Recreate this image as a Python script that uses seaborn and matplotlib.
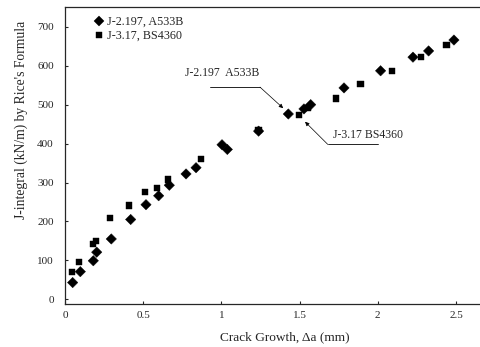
import numpy as np
import pandas as pd
import seaborn as sns
import matplotlib.pyplot as plt

sns.set_style("ticks")
plt.rcParams['font.family'] = ['Liberation Serif', 'DejaVu Serif']

# J-2.197, A533B (diamonds)
a533b_x = [0.049, 0.098, 0.181, 0.203, 0.296, 0.42, 0.518, 0.599, 0.667, 0.774, 0.838,
           1.004, 1.038, 1.238, 1.428, 1.528, 1.571, 1.784, 2.018, 2.225, 2.325, 2.487]
a533b_y = [43, 71, 99, 121, 155, 205, 243, 266, 293, 322, 338,
           397, 385, 432, 476, 489, 500, 543, 587, 622, 638, 666]

# J-3.17, BS4360 (squares)
bs4360_x = [0.043, 0.091, 0.177, 0.196, 0.29, 0.411, 0.511, 0.586, 0.661, 0.872,
            1.238, 1.494, 1.556, 1.735, 1.89, 2.091, 2.278, 2.44]
bs4360_y = [70, 95, 143, 150, 208, 241, 276, 286, 308, 361,
            435, 474, 491, 516, 553, 586, 623, 653]

series_names = ["J-2.197, A533B", "J-3.17, BS4360"]
x_ticks = [0, 0.5, 1, 1.5, 2, 2.5]
x_tick_labels = ["0", "0.5", "1", "1.5", "2", "2.5"]
y_ticks = [0, 100, 200, 300, 400, 500, 600, 700]

df = pd.DataFrame({
    "da": a533b_x + bs4360_x,
    "J": a533b_y + bs4360_y,
    "series": [series_names[0]] * len(a533b_x) + [series_names[1]] * len(bs4360_x),
})

fig = plt.figure(figsize=(4.81, 3.47), dpi=100)
ax = fig.add_axes([0.1351, 0.124, 0.8649, 0.856])

sns.scatterplot(data=df, x="da", y="J", style="series", hue="series",
                markers={series_names[0]: "D", series_names[1]: "s"},
                palette={series_names[0]: "black", series_names[1]: "black"},
                size="series", sizes={series_names[0]: 28, series_names[1]: 20},
                edgecolor="black", linewidth=0.3, ax=ax)

ax.set_xlim(0, 2.66)
ax.set_ylim(-12, 751)
ax.set_xticks(x_ticks)
ax.set_xticklabels(x_tick_labels)
ax.set_yticks(y_ticks)
ax.tick_params(direction="in", length=2.5, width=0.8, labelsize=8)
ax.tick_params(axis="y", pad=8)
ax.tick_params(axis="x", pad=5)
ax.spines["right"].set_visible(False)
for s in ["left", "bottom", "top"]:
    ax.spines[s].set_linewidth(0.9)

ax.set_xlabel("Crack Growth, \u0394a (mm)", fontsize=9.6)
ax.xaxis.set_label_coords(0.528, -0.111)
ax.xaxis.label.set_va("center")
ax.set_ylabel("J-integral (kN/m) by Rice's Formula", fontsize=9.8)
ax.yaxis.set_label_coords(-0.106, 0.62)
ax.yaxis.label.set_va("center")

leg = ax.legend(loc="upper left", bbox_to_anchor=(0.055, 0.985), frameon=False,
                fontsize=8.7, handlelength=1.0, handletextpad=0.2,
                labelspacing=0.15, borderaxespad=0)

# callouts
ax.text(0.767, 582, "J-2.197  A533B", fontsize=8.5, va="center", ha="left")
ax.plot([0.93, 1.247], [545, 545], color="black", lw=0.6)
ax.annotate("", xy=(1.395, 491), xytext=(1.247, 545),
            arrowprops=dict(arrowstyle="-|>", lw=0.5, color="black",
                            mutation_scale=6, shrinkA=0, shrinkB=0))

ax.text(1.711, 422, "J-3.17 BS4360", fontsize=8.5, va="center", ha="left")
ax.plot([1.68, 2.0], [398, 398], color="black", lw=0.6)
ax.annotate("", xy=(1.535, 456), xytext=(1.68, 398),
            arrowprops=dict(arrowstyle="-|>", lw=0.5, color="black",
                            mutation_scale=6, shrinkA=0, shrinkB=0))

plt.savefig("out.png", dpi=100)
